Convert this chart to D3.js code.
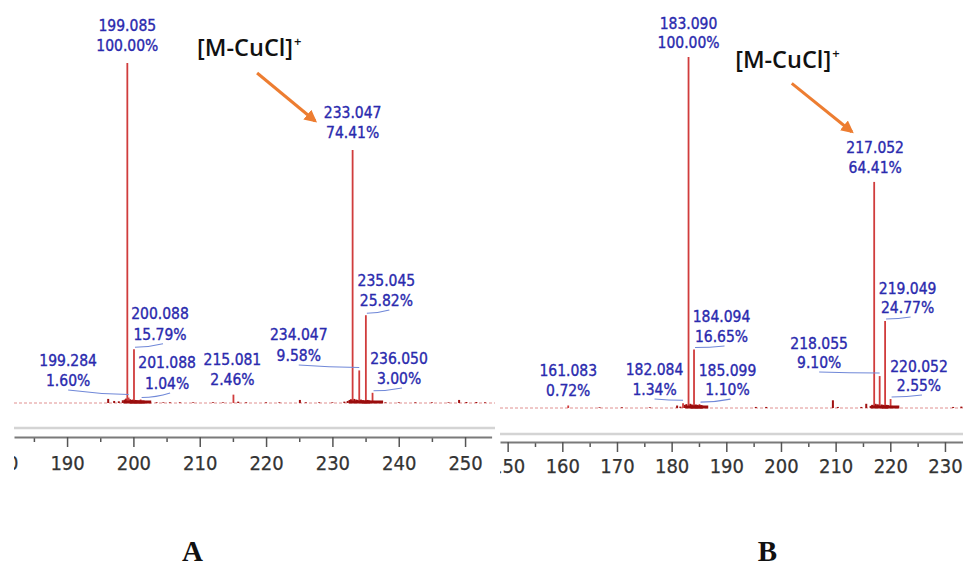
<!DOCTYPE html>
<html>
<head>
<meta charset="utf-8">
<script src="https://cdn.jsdelivr.net/npm/d3@7/dist/d3.min.js"></script>
<style>
  html, body { margin: 0; padding: 0; background: #fff; }
  svg { display: block; }
  .peak-label { font-family: "DejaVu Sans", sans-serif; font-stretch: condensed; font-size: 15.5px; fill: #2a2aae; stroke: #2a2aae; stroke-width: 0.35px; }
  .axis text { font-family: "DejaVu Sans", sans-serif; font-stretch: condensed; font-size: 20px; fill: #333; stroke: #333; stroke-width: 0.25px; }
  .ion { font-family: "Open Sans", sans-serif; font-weight: 600; fill: #111; }
  .panel-tag { font-family: "Liberation Serif", serif; font-weight: bold; font-size: 29px; fill: #111; }
</style>
</head>
<body>
<svg id="chart" width="963" height="567"></svg>
<script>
// ---- Spectrum A -------------------------------------------------------
const labeledMzA  = [199.085, 233.047, 200.088, 199.284, 201.088, 215.081, 234.047, 235.045, 236.050];
const labeledPctA = [100.00, 74.41, 15.79, 1.60, 1.04, 2.46, 9.58, 25.82, 3.00];
const minorMzA  = [196.2, 197.1, 197.8, 198.4, 198.7, 198.9, 199.5, 199.7, 199.9, 200.3, 200.5, 200.8,
                   201.3, 201.6, 202.0, 202.5, 203.5, 204.5, 205.5, 207.0, 209.0, 212.0, 213.5, 215.8,
                   217.0, 220.0, 222.0, 225.1, 226.0, 228.0, 230.0, 231.8, 232.3, 232.6, 232.8, 233.3,
                   233.6, 233.8, 234.3, 234.6, 235.3, 235.6, 235.8, 236.3, 236.7, 237.0, 238.0, 240.0,
                   242.5, 245.0, 247.5, 249.1, 250.2, 251.7, 253.0];
const minorPctA = [1.2, 0.6, 0.5, 0.8, 1.0, 1.3, 1.1, 0.9, 1.0, 0.9, 0.8, 0.7,
                   0.6, 0.5, 0.4, 0.3, 0.2, 0.2, 0.2, 0.2, 0.2, 0.2, 0.2, 0.4,
                   0.2, 0.2, 0.2, 0.9, 0.2, 0.2, 0.2, 0.4, 0.6, 0.9, 1.1, 1.2,
                   1.0, 0.9, 1.0, 0.8, 0.9, 0.7, 0.6, 0.6, 0.4, 0.3, 0.2, 0.2,
                   0.2, 0.2, 0.2, 0.9, 0.3, 0.3, 0.2];
const majorTicksA = [180, 190, 200, 210, 220, 230, 240, 250];
const minorTicksA = [185, 195, 205, 215, 225, 235, 245, 255];

// ---- Spectrum B -------------------------------------------------------
const labeledMzB  = [183.090, 217.052, 184.094, 182.084, 185.099, 161.083, 218.055, 219.049, 220.052];
const labeledPctB = [100.00, 64.41, 16.65, 1.34, 1.10, 0.72, 9.10, 24.77, 2.55];
const minorMzB  = [166.8, 170.9, 176.0, 181.0, 181.6, 182.4, 182.7, 183.4, 183.7, 184.4, 184.7, 185.4,
                   185.7, 186.0, 186.4, 195.4, 197.3, 209.5, 210.4, 214.7, 215.6, 216.4, 216.7, 217.3,
                   217.6, 217.8, 218.4, 218.7, 219.3, 219.6, 220.3, 220.6, 221.0, 231.5, 233.0];
const minorPctB = [0.2, 0.2, 0.2, 0.7, 0.4, 0.9, 1.1, 1.2, 1.0, 1.0, 0.9, 0.8,
                   0.6, 0.5, 0.3, 0.3, 0.3, 2.2, 0.3, 0.3, 1.2, 0.6, 0.9, 1.2,
                   1.0, 1.0, 1.0, 0.9, 0.9, 0.8, 0.6, 0.5, 0.4, 0.3, 0.4];
const majorTicksB = [150, 160, 170, 180, 190, 200, 210, 220, 230];
const minorTicksB = [155, 165, 175, 185, 195, 205, 215, 225, 235];

const ionText = "[M-CuCl]";
const panelTags = ["A", "B"];

// Label placement around each labeled peak: horizontal shift of the label
// centre and offset of the second text line's baseline from the peak top.
const labelLayoutA = [
  {dx: 0, dy: -12, leader: false}, {dx: 0, dy: -12, leader: false},
  {dx: 26, dy: -9.5, leader: true}, {dx: -60.5, dy: -11.5, leader: true},
  {dx: 26.5, dy: -10.5, leader: true}, {dx: -1, dy: -9.5, leader: false},
  {dx: -60.5, dy: -9.5, leader: true}, {dx: 20.5, dy: -9.2, leader: true},
  {dx: 26.5, dy: -8.8, leader: true}
];
const labelLayoutB = [
  {dx: 0, dy: -9, leader: false}, {dx: 1, dy: -9, leader: false},
  {dx: 27.5, dy: -7.6, leader: true}, {dx: -28.5, dy: -8.3, leader: true},
  {dx: 28, dy: -9, leader: true}, {dx: 0, dy: -9.5, leader: false},
  {dx: -60.5, dy: -8, leader: true}, {dx: 22.5, dy: -8, leader: true},
  {dx: 28.4, dy: -8, leader: true}
];

const panels = [
  {
    id: "A", xDomain: [182, 254], xRange: [14, 491.6], clip: [14, 495],
    yRange: [403, 63], grayY: 428, axisY: 437, tickPad: 9, lineGap: 20.5,
    mz: labeledMzA, pct: labeledPctA, minorMz: minorMzA, minorPct: minorPctA,
    major: majorTicksA, minor: minorTicksA, layout: labelLayoutA,
    ion: {text: [-155.5, -94], arrowFrom: [-95.5, -77], arrowTo: [-37.5, -29]},
    tag: {x: 192.5, y: 561}
  },
  {
    id: "B", xDomain: [148.6, 233.3], xRange: [500, 963], clip: [500, 963],
    yRange: [408, 57], grayY: 434, axisY: 442, tickPad: 7, lineGap: 19.5,
    mz: labeledMzB, pct: labeledPctB, minorMz: minorMzB, minorPct: minorPctB,
    major: majorTicksB, minor: minorTicksB, layout: labelLayoutB,
    ion: {text: [-139, -114], arrowFrom: [-82.4, -98.6], arrowTo: [-22.4, -50.2]},
    tag: {x: 767.5, y: 561}
  }
];

const svg = d3.select("#chart");
const defs = svg.append("defs");
defs.append("marker")
  .attr("id", "arrowhead").attr("viewBox", "0 0 10 10")
  .attr("refX", 8).attr("refY", 5)
  .attr("markerWidth", 4.2).attr("markerHeight", 4.2)
  .attr("orient", "auto")
  .append("path").attr("d", "M0,0 L10,5 L0,10 Z").attr("fill", "#ed7d31");

const fmtMz = d3.format(".3f");
const fmtPct = d => d3.format(".2f")(d) + "%";

panels.forEach((p, pi) => {
  const x = d3.scaleLinear().domain(p.xDomain).range(p.xRange);
  const y = d3.scaleLinear().domain([0, 100]).range(p.yRange);

  defs.append("clipPath").attr("id", "clip" + p.id)
    .append("rect").attr("x", p.clip[0]).attr("y", 0)
    .attr("width", p.clip[1] - p.clip[0]).attr("height", 500);

  const g = svg.append("g").attr("clip-path", `url(#clip${p.id})`);

  // dotted baseline
  g.append("line")
    .attr("x1", p.clip[0]).attr("x2", p.clip[1])
    .attr("y1", y(0)).attr("y2", y(0))
    .attr("stroke", "#e09090").attr("stroke-width", 1)
    .attr("stroke-dasharray", "3,2");

  // low-level peaks near the baseline
  const minor = p.minorMz.map((m, i) => ({mz: m, pct: p.minorPct[i]}));
  g.selectAll(".minor").data(minor).enter().append("line")
    .attr("x1", d => x(d.mz)).attr("x2", d => x(d.mz))
    .attr("y1", y(0)).attr("y2", d => y(d.pct))
    .attr("stroke", "#a01010").attr("stroke-width", 2);

  // labeled peaks
  const peaks = p.mz.map((m, i) => ({mz: m, pct: p.pct[i], lay: p.layout[i]}));
  g.selectAll(".peak").data(peaks).enter().append("line")
    .attr("x1", d => x(d.mz)).attr("x2", d => x(d.mz))
    .attr("y1", y(0)).attr("y2", d => y(d.pct))
    .attr("stroke", "#d03c3c").attr("stroke-width", 1.8);

  // dark base under the isotope clusters
  g.selectAll(".base").data(peaks.filter(d => d.pct >= 15)).enter().append("rect")
    .attr("x", d => x(d.mz - 0.6)).attr("width", d => x(d.mz + 2.6) - x(d.mz - 0.6))
    .attr("y", y(0) - 2.5).attr("height", 3)
    .attr("fill", "#9a0c0c");

  // leader lines from labels to peak tops
  g.selectAll(".leader").data(peaks.filter(d => d.lay.leader)).enter().append("path")
    .attr("fill", "none").attr("stroke", "#7088d8").attr("stroke-width", 1.1)
    .attr("d", d => {
      const px = x(d.mz), py = y(d.pct);
      const lx = px + d.lay.dx, lb = py + d.lay.dy;
      let s, e;
      if (d.lay.dx > 0) { s = [px + 1, py - 2]; e = [lx + 3, lb + 4]; }
      else { s = [lx, lb + 4]; e = [px, py - 3]; }
      const c = [s[0] + (e[0] - s[0]) * 0.5, d.lay.dx > 0 ? s[1] : e[1] - (e[1] - s[1]) * 0.1];
      return `M${s[0]},${s[1]} Q${c[0]},${c[1]} ${e[0]},${e[1]}`;
    });

  // peak labels (m/z and relative intensity)
  const lab = g.selectAll(".lab").data(peaks).enter().append("text")
    .attr("class", "peak-label").attr("text-anchor", "middle");
  lab.append("tspan")
    .attr("x", d => x(d.mz) + d.lay.dx)
    .attr("y", d => y(d.pct) + d.lay.dy - p.lineGap)
    .text(d => fmtMz(d.mz));
  lab.append("tspan")
    .attr("x", d => x(d.mz) + d.lay.dx)
    .attr("y", d => y(d.pct) + d.lay.dy)
    .text(d => fmtPct(d.pct));

  // axis: light rule above, then the tick axis
  g.append("line")
    .attr("x1", p.clip[0]).attr("x2", p.clip[1])
    .attr("y1", p.grayY).attr("y2", p.grayY)
    .attr("stroke", "#d4d4d4").attr("stroke-width", 2.5);

  const axMinor = g.append("g").attr("class", "axis")
    .attr("transform", `translate(0,${p.axisY})`)
    .call(d3.axisBottom(x).tickValues(p.minor).tickSize(5).tickSizeOuter(0).tickFormat(""));
  axMinor.select(".domain").remove();
  axMinor.selectAll(".tick line").attr("stroke", "#555").attr("stroke-width", 1.5);

  const axMajor = g.append("g").attr("class", "axis")
    .attr("transform", `translate(0,${p.axisY})`)
    .call(d3.axisBottom(x).tickValues(p.major).tickSize(10).tickSizeOuter(0)
      .tickPadding(p.tickPad).tickFormat(d3.format("d")));
  axMajor.select(".domain").attr("stroke", "#7a7a7a").attr("stroke-width", 2.2);
  axMajor.selectAll(".tick line").attr("stroke", "#555").attr("stroke-width", 1.5);
  axMajor.selectAll(".tick text").attr("fill", "#333");

  // ion annotation with arrow pointing at the base peak of the fragment
  const ionPeak = peaks[1];
  const ix = x(ionPeak.mz), iy = y(ionPeak.pct);
  const ionT = svg.append("text").attr("class", "ion")
    .attr("x", ix + p.ion.text[0]).attr("y", iy + p.ion.text[1])
    .attr("font-size", 23.5);
  ionT.append("tspan").text(ionText);
  ionT.append("tspan").attr("font-size", 13).attr("dy", -10).attr("dx", 1).text("+");

  svg.append("line")
    .attr("x1", ix + p.ion.arrowFrom[0]).attr("y1", iy + p.ion.arrowFrom[1])
    .attr("x2", ix + p.ion.arrowTo[0]).attr("y2", iy + p.ion.arrowTo[1])
    .attr("stroke", "#ed7d31").attr("stroke-width", 3)
    .attr("marker-end", "url(#arrowhead)");

  svg.append("text").attr("class", "panel-tag")
    .attr("x", p.tag.x).attr("y", p.tag.y).attr("text-anchor", "middle")
    .text(panelTags[pi]);
});
</script>
</body>
</html>
